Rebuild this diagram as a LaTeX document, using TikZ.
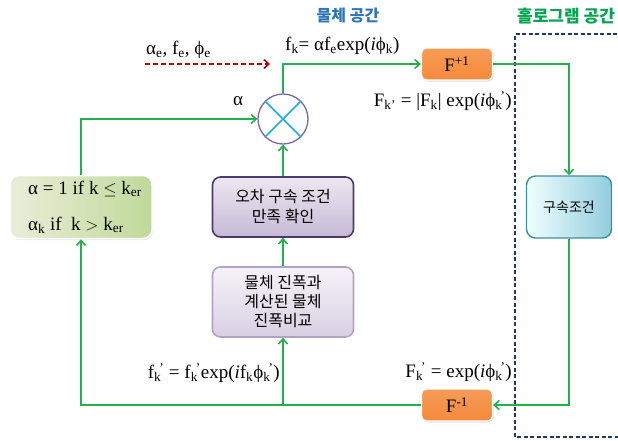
\documentclass[tikz,border=0pt]{standalone}
\usepackage{fontspec}
\usepackage{amssymb}
\setmainfont{Liberation Serif}
\newfontfamily\kr{Noto Sans CJK KR}
\usetikzlibrary{arrows.meta,shadows}
\definecolor{gline}{HTML}{22B14C}
\definecolor{rline}{HTML}{C00000}
\definecolor{dkblue}{HTML}{1F3864}
\definecolor{ttlblue}{HTML}{2E75B6}
\definecolor{ttlgreen}{HTML}{00A650}
\definecolor{orng}{HTML}{F58A3A}
\definecolor{purp}{HTML}{8064A2}
\definecolor{purpdk}{HTML}{4B3B6B}
\definecolor{xcyan}{HTML}{1CB0E0}
\definecolor{teal}{HTML}{3E8FA0}
\definecolor{lblue}{HTML}{92CDDE}
\newcommand{\lo}[1]{\textsubscript{#1}}
\newcommand{\lop}[1]{\textsubscript{#1}\textsuperscript{\kern-0.15em'}}
\newcommand{\ph}{ϕ}
\tikzset{
  gl/.style={draw=gline, line width=1.6pt},
  garr/.style={gl, -{Straight Barb[length=5pt,width=9pt,line width=1.6pt]}},
  formula/.style={font=\fontsize{19}{22}\selectfont, inner sep=0pt},
  fbox/.style={rounded corners=5pt, draw=white, line width=1.2pt,
     top color=orng!85!white, bottom color=orng, minimum width=71pt, minimum height=32pt,
     font=\fontsize{19}{22}\selectfont, drop shadow={opacity=0.25,shadow xshift=1pt,shadow yshift=-1.5pt}},
  pbox/.style={rounded corners=8pt, line width=1.6pt, minimum width=141pt,
     align=center, font=\kr\fontsize{16}{20}\selectfont},
}
\begin{document}
\begin{tikzpicture}[x=1pt,y=-1pt]
\useasboundingbox (0,0) rectangle (618,440);
% titles
\node[font=\kr\bfseries\fontsize{16}{19}\selectfont, text=ttlblue] (t1) at (348,16) {물체 공간};
\node[font=\kr\bfseries\fontsize{17}{20}\selectfont, text=ttlgreen, anchor=west, inner sep=0pt] (t2) at (517,16) {홀로그램 공간};
% dashed hologram region
\draw[dkblue, line width=1.2pt, dash pattern=on 4pt off 2.5pt] (630,34) -- (515,34) -- (515,437) -- (630,437);
% nodes
\node[circle, draw=purp, fill=white, line width=1.3pt, minimum size=50pt, inner sep=0pt] (mult) at (283,119) {};
\draw[xcyan, line width=1.6pt] (mult.north east) -- (mult.south west) (mult.north west) -- (mult.south east);
\node[fbox] (fp) at (457,64) {F\textsuperscript{+1}};
\node[fbox] (fm) at (457,405) {F\textsuperscript{-1}};
\node[rounded corners=9pt, draw=teal, line width=1.4pt, left color=cyan!6!white, right color=lblue,
  minimum width=85pt, minimum height=62pt, font=\kr\fontsize{14}{17}\selectfont] (hc) at (569,207) {구속조건};
\node[rounded corners=9pt, draw=white, line width=1.5pt, left color=green!10!olive!15!white, right color=green!25!olive!40!white,
  minimum width=142pt, minimum height=63pt, drop shadow={opacity=0.2,shadow xshift=1pt,shadow yshift=-1.5pt},
  align=left, font=\fontsize{19}{22}\selectfont] (abox) at (81,207)
  {\hspace{8pt}α = 1 if k $\leq$ k\lo{er}\\[14pt]\hspace{8pt}α\lo{k} if\ \ k $>$ k\lo{er}};
\node[pbox, draw=purpdk, top color=purp!15!white, bottom color=purp!45!white, minimum height=60pt] (chk) at (283,207)
  {오차 구속 조건\\만족 확인};
\node[pbox, draw=purp!60!white, top color=purp!8!white, bottom color=purp!30!white, minimum height=70pt,
  font=\kr\fontsize{16}{19}\selectfont] (cmp) at (283,302)
  {물체 진폭과\\계산된 물체\\진폭비교};
% connectors
\coordinate (r1) at (145,64);
\coordinate (r2) at (270,64);
\draw[rline, line width=1.6pt, dash pattern=on 5pt off 3pt, -{Straight Barb[length=5pt,width=9pt,line width=1.6pt]}] (r1) -- (r2);
\draw[garr] (abox.north) |- (mult.west);
\draw[garr] (mult.north) |- (fp.west);
\draw[garr] (fp.east) -| (hc.north);
\draw[garr] (hc.south) |- (fm.east);
\draw[garr] (fm.west) -| (abox.south);
\coordinate (j) at (cmp.south |- fm.west);
\draw[garr] (j) -- (cmp.south);
\draw[garr] (cmp.north) -- (chk.south);
\draw[garr] (chk.north) -- (mult.south);
% labels
\node[formula, anchor=west] (le) at (146,50) {α\lo{e}, f\lo{e}, \ph\lo{e}};
\node[formula, anchor=west] (lfk) at (285,46) {f\lo{k}= αf\lo{e}exp(\textit{i}\ph\lo{k})};
\node[formula] (lal) at (238,101) {α};
\node[formula, anchor=east] (lFk) at (512,101) {F\lo{k'} = |F\lo{k}| exp(\textit{i}\ph\lop{k})};
\node[formula, anchor=east] (lFk2) at (512,372) {F\lop{k} = exp(\textit{i}\ph\lop{k})};
\node[formula, anchor=east] (lfk2) at (280,373) {f\lop{k} = f\lop{k}exp(\textit{i}f\lo{k}\ph\lop{k})};
\end{tikzpicture}
\end{document}
